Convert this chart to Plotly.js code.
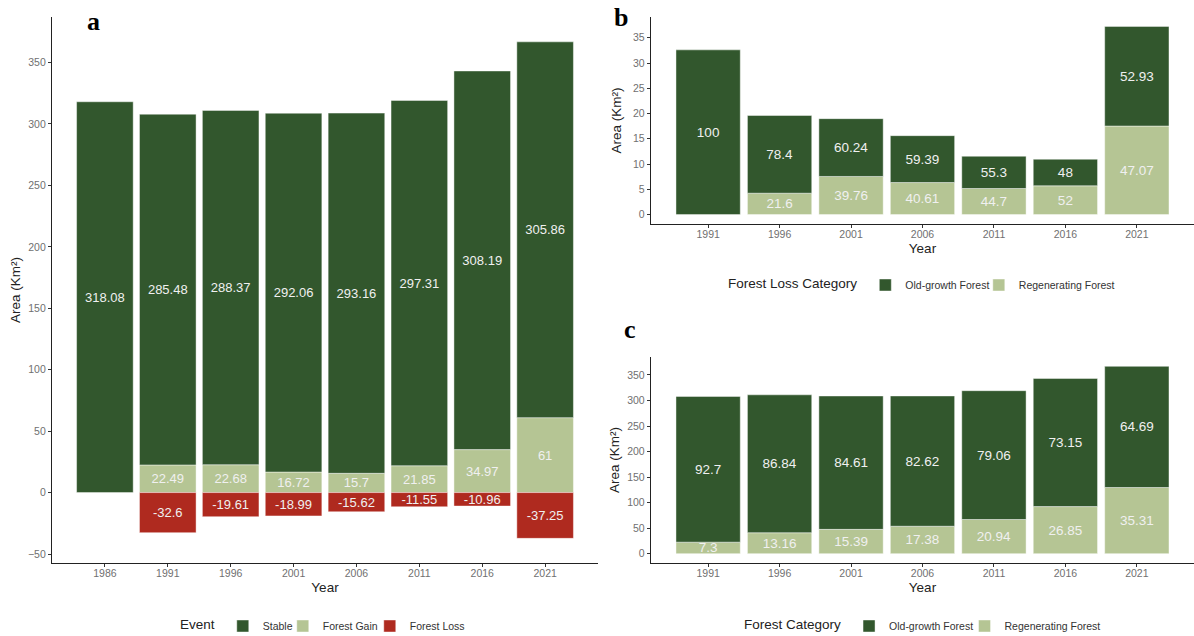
<!DOCTYPE html>
<html>
<head>
<meta charset="utf-8">
<script src="https://cdn.plot.ly/plotly-3.0.1.min.js"></script>
<style>html,body{margin:0;padding:0;background:#fff;}#chart{width:1194px;height:636px;}</style>
</head>
<body>
<div id="chart"></div>
<script>
// ---- Panel a: forest change events ----
var yearsA = ['1986','1991','1996','2001','2006','2011','2016','2021'];
var stable = [318.08, 285.48, 288.37, 292.06, 293.16, 297.31, 308.19, 305.86];
var gain   = [null, 22.49, 22.68, 16.72, 15.7, 21.85, 34.97, 61];
var loss   = [null, -32.6, -19.61, -18.99, -15.62, -11.55, -10.96, -37.25];

// ---- Panel b: forest loss by category ----
var yearsB = ['1991','1996','2001','2006','2011','2016','2021'];
var lossOldArea   = [32.6, 15.37, 11.44, 9.28, 6.39, 5.26, 19.72];
var lossRegenArea = [null, 4.24, 7.55, 6.34, 5.16, 5.70, 17.53];
var lossOldPct    = [100, 78.4, 60.24, 59.39, 55.3, 48, 52.93];
var lossRegenPct  = [null, 21.6, 39.76, 40.61, 44.7, 52, 47.07];

// ---- Panel c: forest by category ----
var yearsC = ['1991','1996','2001','2006','2011','2016','2021'];
var forestOldArea   = [285.48, 270.12, 261.26, 255.18, 252.33, 251.02, 237.32];
var forestRegenArea = [22.49, 40.93, 47.52, 53.68, 66.83, 92.14, 129.54];
var forestOldPct    = [92.7, 86.84, 84.61, 82.62, 79.06, 73.15, 64.69];
var forestRegenPct  = [7.3, 13.16, 15.39, 17.38, 20.94, 26.85, 35.31];

var C_DARK = '#32572d', C_LIGHT = '#b5c594', C_RED = '#af2a1f';
var FONT = '"Liberation Sans", Arial, Helvetica, sans-serif';
var TXT = '#f0f0f0';

function lab(arr){ return arr.map(function(v){ return v === null ? '' : String(v); }); }
function bar(x, y, text, name, color, xa, ya, leg, rank, size, lw){
  var t = {
    type: 'bar', x: x, y: y, name: name, text: text,
    textposition: 'inside', insidetextanchor: 'middle', constraintext: 'none', textangle: 0,
    textfont: {family: FONT, size: size, color: TXT},
    marker: {color: color, line: {color: 'rgba(255,255,255,0.55)', width: 0.8}},
    xaxis: xa, yaxis: ya, legend: leg, legendrank: rank, hoverinfo: 'x+y+name'
  };
  if (lw) t.legendwidth = lw;
  return t;
}

var data = [
  bar(yearsA, gain, lab(gain), 'Forest Gain', C_LIGHT, 'x', 'y', 'legend', 2, 13, 42),
  bar(yearsA, stable, lab(stable), 'Stable', C_DARK, 'x', 'y', 'legend', 1, 13, 15),
  bar(yearsA, loss, lab(loss), 'Forest Loss', C_RED, 'x', 'y', 'legend', 3, 13, null),
  bar(yearsB, lossRegenArea, lab(lossRegenPct), 'Regenerating Forest', C_LIGHT, 'x2', 'y2', 'legend2', 2, 13.5, null),
  bar(yearsB, lossOldArea, lab(lossOldPct), 'Old-growth Forest', C_DARK, 'x2', 'y2', 'legend2', 1, 13.5, 68.5),
  bar(yearsC, forestRegenArea, lab(forestRegenPct), 'Regenerating Forest', C_LIGHT, 'x3', 'y3', 'legend3', 2, 13.5, null),
  bar(yearsC, forestOldArea, lab(forestOldPct), 'Old-growth Forest', C_DARK, 'x3', 'y3', 'legend3', 1, 13.5, 70.5)
];

function xax(domain, range, anchor){
  return {
    domain: domain, range: range, type: 'category', anchor: anchor,
    showline: true, linecolor: '#222', linewidth: 1.2, mirror: false,
    ticks: 'outside', ticklen: 3, tickcolor: '#333', tickwidth: 1, ticklabelstandoff: -3,
    tickfont: {family: FONT, size: 10.5, color: '#707070'},
    showgrid: false, zeroline: false, automargin: false, fixedrange: true,
    title: {text: 'Year', font: {family: FONT, size: 13.5, color: '#222'}, standoff: 4}
  };
}
function yax(domain, range, tickvals, anchor, standoff){
  return {
    domain: domain, range: range, anchor: anchor, tickvals: tickvals,
    showline: true, linecolor: '#222', linewidth: 1.2,
    ticks: 'outside', ticklen: 3, tickcolor: '#333', tickwidth: 1,
    tickfont: {family: FONT, size: 10.5, color: '#707070'},
    showgrid: false, zeroline: false, automargin: false, fixedrange: true,
    title: {text: 'Area (Km²)', font: {family: FONT, size: 13.5, color: '#222'}, standoff: standoff}
  };
}
function leg(xLeft, yMid, title){
  return {
    orientation: 'h', x: xLeft / 1194, y: 1 - yMid / 636, xanchor: 'left', yanchor: 'middle',
    bgcolor: 'rgba(0,0,0,0)', traceorder: 'normal',
    title: {text: title, side: 'left', font: {family: FONT, size: 13.5, color: '#222'}},
    font: {family: FONT, size: 10.5, color: '#333'}, itemclick: false, itemdoubleclick: false
  };
}

var layout = {
  width: 1194, height: 636,
  margin: {l: 0, r: 0, t: 0, b: 0, autoexpand: false},
  paper_bgcolor: '#fff', plot_bgcolor: '#fff',
  barmode: 'relative', bargap: 0.1,
  font: {family: FONT},
  xaxis:  xax([0.0436, 0.5008], [-0.84, 7.84], 'y'),
  yaxis:  yax([0.1148, 0.9733], [-57.3, 387.1], [-50,0,50,100,150,200,250,300,350], 'x', 4),
  xaxis2: xax([0.5452, 1.0], [-0.8, 6.8], 'y2'),
  yaxis2: yax([0.6478, 0.9733], [-1.86, 39.11], [0,5,10,15,20,25,30,35], 'x2', 8),
  xaxis3: xax([0.5452, 1.0], [-0.8, 6.8], 'y3'),
  yaxis3: yax([0.1148, 0.4387], [-18.34, 385.2], [0,50,100,150,200,250,300,350], 'x3', 4),
  showlegend: true,
  legend:  leg(178, 626, 'Event'),
  legend2: leg(726, 285, 'Forest Loss Category'),
  legend3: leg(742, 626, 'Forest Category'),
  annotations: [
    {text: '<b>a</b>', xref: 'paper', yref: 'paper', x: 93/1194, y: 1 - 22/636, xanchor: 'center', yanchor: 'middle', showarrow: false, font: {family: '"Liberation Serif", "Times New Roman", serif', size: 26, color: '#000'}},
    {text: '<b>b</b>', xref: 'paper', yref: 'paper', x: 621/1194, y: 1 - 17/636, xanchor: 'center', yanchor: 'middle', showarrow: false, font: {family: '"Liberation Serif", "Times New Roman", serif', size: 26, color: '#000'}},
    {text: '<b>c</b>', xref: 'paper', yref: 'paper', x: 630/1194, y: 1 - 329/636, xanchor: 'center', yanchor: 'middle', showarrow: false, font: {family: '"Liberation Serif", "Times New Roman", serif', size: 26, color: '#000'}}
  ]
};

Plotly.newPlot('chart', data, layout, {displayModeBar: false, staticPlot: true});
</script>
</body>
</html>
